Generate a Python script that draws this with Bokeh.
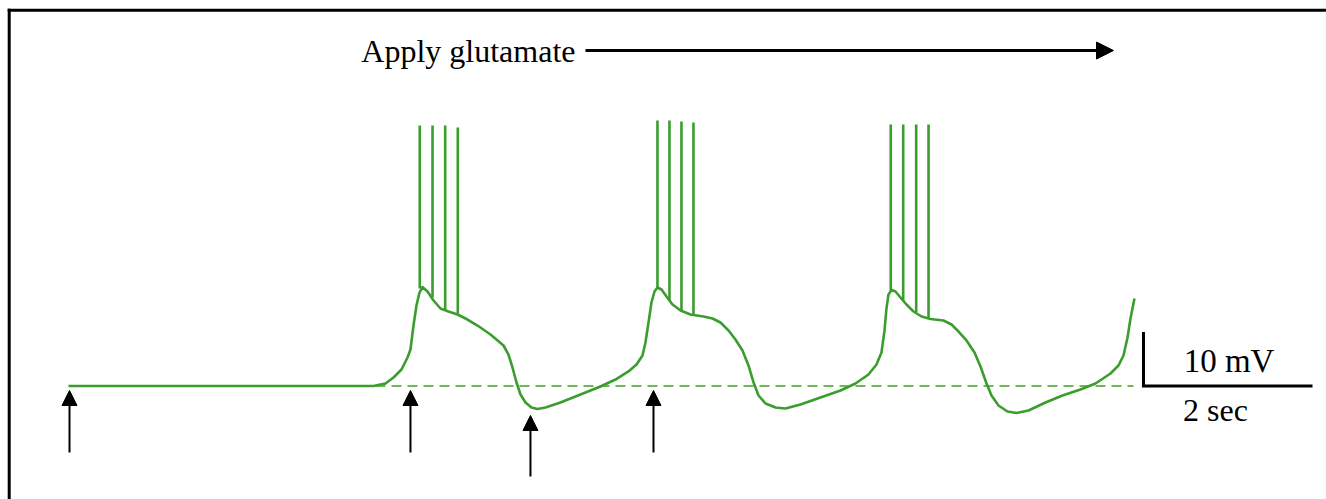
from bokeh.plotting import figure
from bokeh.models import Range1d, Arrow, NormalHead, Label, ColumnDataSource
from bokeh.embed import file_html
from bokeh.resources import INLINE

# ---------------- data (time in s, membrane potential in mV) ----------------
V_REST = -65.0

time_s = [0.000, 3.609, 3.751, 3.846, 3.941, 4.012, 4.047, 4.083, 4.118, 4.154, 4.189,
          4.249, 4.320, 4.402, 4.497, 4.604, 4.722, 4.840, 4.994, 5.148, 5.207, 5.254,
          5.302, 5.349, 5.408, 5.479, 5.550, 5.645, 5.822, 6.059, 6.296, 6.473, 6.627,
          6.722, 6.793, 6.828, 6.864, 6.899, 6.935, 6.970, 7.018, 7.077, 7.148, 7.243,
          7.361, 7.515, 7.621, 7.716, 7.811, 7.893, 7.976, 8.047, 8.107, 8.166, 8.249,
          8.367, 8.485, 8.663, 8.899, 9.136, 9.314, 9.467, 9.562, 9.621, 9.657, 9.680,
          9.704, 9.740, 9.787, 9.846, 9.917, 10.000, 10.095, 10.201, 10.355, 10.450,
          10.533, 10.627, 10.722, 10.793, 10.864, 10.923, 11.006, 11.112, 11.219, 11.361,
          11.562, 11.763, 11.976, 12.154, 12.331, 12.426, 12.485, 12.533, 12.568, 12.615]
vm_mV = [-65.00, -65.00, -64.54, -63.43, -61.94, -59.72, -58.24, -53.80, -50.09, -47.69, -46.67,
         -47.50, -49.17, -50.65, -51.20, -51.76, -52.69, -53.80, -55.46, -57.50, -59.17, -61.57,
         -64.35, -66.57, -68.06, -68.98, -69.26, -68.98, -68.06, -66.57, -65.09, -63.80, -62.31,
         -61.02, -59.35, -56.94, -53.24, -49.54, -47.50, -46.76, -47.13, -48.43, -49.91, -51.02,
         -51.76, -52.13, -52.50, -53.24, -54.72, -56.39, -58.43, -61.20, -64.35, -66.76, -68.24,
         -68.98, -69.17, -68.43, -67.13, -65.83, -64.54, -62.87, -61.02, -58.80, -54.72, -50.65,
         -48.06, -47.22, -47.50, -48.61, -49.91, -51.20, -52.13, -52.59, -52.87, -53.61,
         -54.91, -56.57, -58.80, -61.39, -64.54, -66.76, -68.61, -69.72, -70.00, -69.54,
         -68.06, -66.76, -65.65, -64.54, -62.69, -61.20, -59.35, -56.02, -52.50, -48.80]

# action potentials (drawn as vertical strokes)
spike_t = [4.157, 4.308, 4.458, 4.607,
           6.970, 7.112, 7.254, 7.396,
           9.731, 9.878, 10.032, 10.178]
spike_top = [-16.76, -16.76, -16.76, -17.13,
             -15.83, -15.83, -16.02, -16.20,
             -16.57, -16.57, -16.57, -16.57]
spike_base = [-46.94, -48.56, -50.83, -51.63,
              -46.76, -49.17, -51.02, -51.76,
              -47.31, -49.17, -51.33, -52.56]

# stimulus markers (arrows)
stim_t = [0.012, 4.047, 5.467, 6.923]
stim_tip = [-65.83, -65.83, -70.46, -65.83]
stim_tail = [-77.31, -77.31, -81.76, -77.31]

# resting baseline (dashed)
baseline_t = [3.633, 12.604]

# glutamate application
glu_start, glu_end = 6.118, 12.367
glu_label = "Apply glutamate"

# scale bar
bar_t0, bar_dt = 12.722, 2.0
bar_v0, bar_dv = V_REST, 10.0
bar_label_v = "10 mV"
bar_label_t = "2 sec"

# ---------------- layout ----------------
W, H = 1326, 499
PX_PER_S, PX_PER_MV = 84.5, 5.4
X0_PX, Y0_PX = 68.0, 385.5   # pixel position of (t=0, V=V_REST)

x_range = Range1d(-X0_PX / PX_PER_S, (W - X0_PX) / PX_PER_S)
y_range = Range1d(V_REST - (H - Y0_PX) / PX_PER_MV, V_REST + Y0_PX / PX_PER_MV)

def tx(px):
    return (px - X0_PX) / PX_PER_S

def vy(py):
    return V_REST + (Y0_PX - py) / PX_PER_MV

GREEN = "#3a9d2e"
GREEN_LIGHT = "#6cba52"
FONT = "Liberation Serif"
LABEL_LIFT = 11 / PX_PER_MV

p = figure(width=W, height=H, x_range=x_range, y_range=y_range,
           output_backend="svg", toolbar_location=None,
           x_axis_location=None, y_axis_location=None, min_border=0)
p.grid.visible = False
p.outline_line_color = None
p.background_fill_color = "white"
p.border_fill_color = "white"

# frame (only top and left edges fall inside the view)
cx, cy = tx(8.7), vy(9.7)
p.segment(x0=[cx, cx], y0=[cy, cy], x1=[x_range.end, cx], y1=[cy, y_range.start],
          line_color="black", line_width=3, line_cap="square")

# dashed baseline
p.line(baseline_t, [V_REST, V_REST], line_color=GREEN_LIGHT, line_width=2, line_dash="10 6")

# trace
p.line(time_s, vm_mV, line_color=GREEN, line_width=2.6, line_join="round")

# spikes
p.segment(x0=spike_t, y0=spike_base, x1=spike_t, y1=spike_top,
          line_color=GREEN, line_width=2.6)

# stimulus arrows
src = ColumnDataSource(dict(x=stim_t, y0=stim_tail, y1=stim_tip))
p.add_layout(Arrow(end=NormalHead(size=15, fill_color="black", line_color="black"),
                   x_start="x", y_start="y0", x_end="x", y_end="y1", source=src,
                   line_color="black", line_width=2))

# glutamate arrow and label
glu_v = vy(50)
p.add_layout(Arrow(end=NormalHead(size=17, fill_color="black", line_color="black"),
                   x_start=glu_start, y_start=glu_v, x_end=glu_end, y_end=glu_v,
                   line_color="black", line_width=3))
p.add_layout(Label(x=tx(575), y=vy(61) + LABEL_LIFT, text=glu_label,
                   text_font=FONT, text_font_size="32px", text_color="black",
                   text_align="right", text_baseline="alphabetic"))

# scale bar
p.line([bar_t0, bar_t0, bar_t0 + bar_dt], [bar_v0 + bar_dv, bar_v0, bar_v0],
       line_color="black", line_width=3, line_join="miter")
p.add_layout(Label(x=tx(1228.5), y=vy(371.5) + LABEL_LIFT, text=bar_label_v, text_font=FONT,
                   text_font_size="33px", text_color="black",
                   text_align="center", text_baseline="alphabetic"))
p.add_layout(Label(x=tx(1215), y=vy(420) + LABEL_LIFT, text=bar_label_t, text_font=FONT,
                   text_font_size="32px", text_color="black",
                   text_align="center", text_baseline="alphabetic"))

open("out.html", "w").write(file_html(p, INLINE))
